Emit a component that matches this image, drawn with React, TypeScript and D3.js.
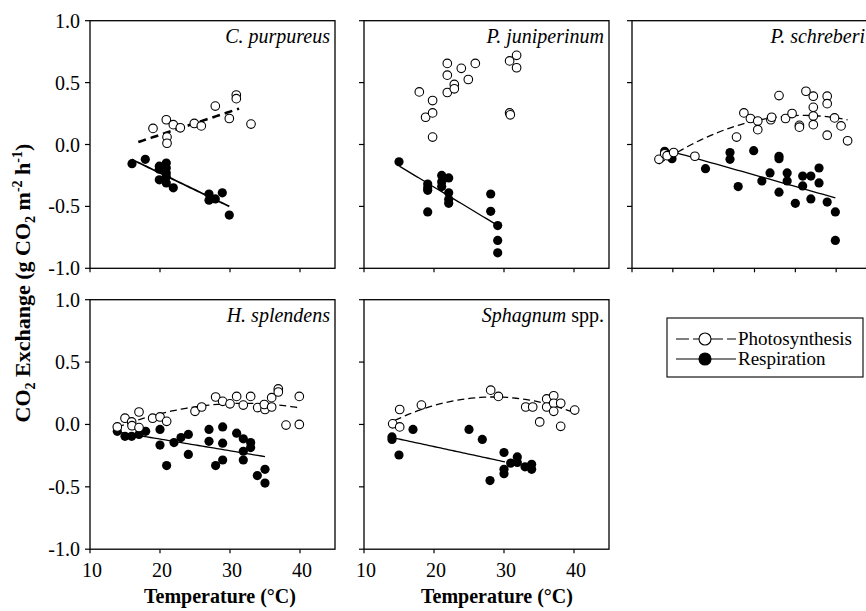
import React from 'react';
import * as d3 from 'd3';

// temperature (°C), CO2 exchange (g CO2 m-2 h-1)
const purpureusPhoto = [
  [19.0, 0.13], [20.9, 0.20], [21.0, 0.06], [21.0, 0.01], [21.9, 0.16], [22.9, 0.135],
  [24.9, 0.17], [25.9, 0.15], [27.9, 0.31], [29.9, 0.21], [30.9, 0.40], [30.9, 0.37], [33.0, 0.165]
];
const purpureusResp = [
  [16.0, -0.155], [17.9, -0.12], [19.9, -0.175], [19.9, -0.2], [19.9, -0.285], [20.9, -0.15],
  [20.9, -0.19], [20.9, -0.23], [20.9, -0.26], [20.9, -0.31], [21.9, -0.35], [27.0, -0.40],
  [27.0, -0.45], [27.9, -0.44], [28.9, -0.39], [29.9, -0.57]
];
const juniperinumPhoto = [
  [17.9, 0.425], [18.8, 0.22], [19.8, 0.355], [19.8, 0.255], [19.8, 0.06], [21.9, 0.655],
  [21.9, 0.56], [21.9, 0.42], [22.9, 0.485], [22.9, 0.45], [23.9, 0.615], [24.9, 0.525],
  [25.9, 0.655], [30.8, 0.675], [31.8, 0.72], [31.8, 0.62], [30.8, 0.255], [30.9, 0.24]
];
const juniperinumResp = [
  [15.0, -0.14], [19.1, -0.32], [19.1, -0.35], [19.1, -0.37], [19.1, -0.545], [21.1, -0.25],
  [21.1, -0.30], [21.1, -0.34], [22.1, -0.27], [22.1, -0.39], [22.1, -0.445], [22.1, -0.475],
  [28.1, -0.40], [28.1, -0.54], [29.1, -0.655], [29.1, -0.775], [29.1, -0.875]
];
const schreberiPhoto = [
  [13.3, -0.12], [14.0, -0.075], [14.3, -0.09], [15.1, -0.065], [17.7, -0.095], [22.8, 0.06],
  [23.7, 0.255], [24.5, 0.21], [25.4, 0.19], [25.4, 0.12], [27.0, 0.2], [27.1, 0.22],
  [28.0, 0.395], [28.8, 0.21], [29.6, 0.25], [30.5, 0.155], [30.5, 0.14], [31.3, 0.43],
  [32.2, 0.39], [32.2, 0.3], [32.2, 0.23], [32.2, 0.16], [33.9, 0.39], [33.9, 0.33],
  [33.9, 0.075], [34.8, 0.215], [35.6, 0.15], [36.4, 0.03]
];
const schreberiResp = [
  [14.0, -0.055], [14.9, -0.115], [19.0, -0.195], [22.0, -0.065], [22.0, -0.12], [23.0, -0.34],
  [24.9, -0.05], [25.9, -0.295], [26.9, -0.23], [28.0, -0.095], [28.0, -0.115], [28.0, -0.385],
  [29.0, -0.23], [29.0, -0.295], [30.0, -0.475], [30.9, -0.255], [30.9, -0.335], [31.9, -0.255],
  [31.9, -0.44], [32.9, -0.19], [32.9, -0.31], [33.9, -0.465], [34.9, -0.545], [34.9, -0.775]
];
const splendensPhoto = [
  [13.9, -0.02], [15.0, 0.05], [15.95, 0.02], [16.0, -0.01], [17.0, 0.1], [17.0, -0.025],
  [18.95, 0.05], [20.0, 0.06], [20.95, 0.025], [25.0, 0.105], [25.95, 0.14], [27.95, 0.22],
  [28.95, 0.185], [30.0, 0.165], [30.95, 0.225], [31.9, 0.155], [32.95, 0.225], [33.95, 0.135],
  [35.0, 0.12], [34.9, 0.16], [35.95, 0.215], [35.95, 0.14], [36.9, 0.285], [36.9, 0.26],
  [38.0, -0.005], [39.9, 0.225], [39.9, 0.0]
];
const splendensResp = [
  [13.9, -0.055], [15.0, -0.095], [15.95, -0.095], [17.0, -0.08], [17.95, -0.055], [20.0, -0.04],
  [20.0, -0.165], [20.95, -0.33], [22.0, -0.145], [23.0, -0.105], [24.05, -0.08], [24.05, -0.24],
  [27.0, -0.04], [27.0, -0.135], [27.95, -0.33], [28.95, -0.02], [28.95, -0.15], [28.95, -0.285],
  [30.95, -0.07], [31.9, -0.115], [31.9, -0.215], [31.9, -0.285], [32.95, -0.145], [32.95, -0.185],
  [33.9, -0.41], [35.0, -0.36], [35.0, -0.47]
];
const sphagnumPhoto = [
  [14.1, 0.005], [15.1, 0.12], [15.1, -0.02], [18.2, 0.155], [28.1, 0.275], [29.2, 0.225],
  [33.1, 0.14], [34.1, 0.14], [35.1, 0.02], [36.1, 0.205], [36.1, 0.14], [37.1, 0.23],
  [37.1, 0.17], [37.1, 0.105], [38.1, 0.17], [38.1, -0.015], [40.1, 0.115]
];
const sphagnumResp = [
  [14.0, -0.1], [14.0, -0.12], [15.0, -0.245], [17.0, -0.04], [25.0, -0.04], [26.9, -0.12],
  [28.0, -0.45], [30.0, -0.225], [30.0, -0.36], [30.0, -0.395], [30.95, -0.31], [31.9, -0.26],
  [31.9, -0.305], [33.0, -0.34], [33.95, -0.32], [33.95, -0.36]
];

// fitted curves: polynomial coefficients [c0, c1, c2] and temperature span
const purpureusPhotoFit = { coef: [-0.297, 0.01875, 0], span: [16.9, 31.3] };
const purpureusRespFit = { coef: [0.3145, -0.02724, 0], span: [15.95, 29.9] };
const juniperinumRespFit = { coef: [0.3377, -0.03407, 0], span: [15.05, 29.14] };
const schreberiPhotoFit = { coef: [-0.96625, 0.0775, -0.00125], span: [13.3, 36.4] };
const schreberiRespFit = { coef: [0.2207, -0.01867, 0], span: [13.96, 34.9] };
const splendensPhotoFit = { coef: [-0.4301, 0.0375, -0.000586], span: [13.9, 40] };
const splendensRespFit = { coef: [0.0704, -0.00938, 0], span: [13.9, 35] };
const sphagnumPhotoFit = { coef: [-0.5482, 0.05392, -0.000946], span: [14.4, 40.1] };
const sphagnumRespFit = { coef: [0.0646, -0.0121, 0], span: [14.1, 30.14] };

const yTicks = [1.0, 0.5, 0.0, -0.5, -1.0];
const xTicks = [10, 20, 30, 40];
const xTicksWide = [10, 15, 20, 25, 30, 35, 40];
const legendLabels = ['Photosynthesis', 'Respiration'];

const FONT = "'Liberation Serif', 'Times New Roman', 'DejaVu Serif', serif";

type Fit = { coef: number[]; span: number[] };

function fitPath(fit: Fit, x: any, y: any) {
  const ts = d3.range(0, 41).map(i => fit.span[0] + (fit.span[1] - fit.span[0]) * i / 40);
  const f = (t: number) => fit.coef[0] + fit.coef[1] * t + fit.coef[2] * t * t;
  return d3.line<number>().x(t => x(t)).y(t => y(f(t)))(ts) || '';
}

function Panel(props: any) {
  const { left, top, width, height, domain, ticks, yLabels, xLabels, title, titleRight,
    photo, resp, photoFit, respFit, boldFit } = props;
  const x = d3.scaleLinear().domain(domain).range([left, left + width]);
  const y = d3.scaleLinear().domain([-1, 1]).range([top + height, top]);
  return (
    <g>
      <rect x={left} y={top} width={width} height={height} fill="none" stroke="#000" strokeWidth={1.3} />
      {yTicks.map(t => (
        <g key={'y' + t}>
          <line x1={left - 5} x2={left} y1={y(t)} y2={y(t)} stroke="#000" strokeWidth={1.2} />
          {yLabels && (
            <text x={left - 10} y={y(t)} dy="0.35em" textAnchor="end" fontSize={20}>{t.toFixed(1)}</text>
          )}
        </g>
      ))}
      {ticks.map((t: number) => (
        <g key={'x' + t}>
          <line x1={x(t)} x2={x(t)} y1={top + height} y2={top + height + 4} stroke="#000" strokeWidth={1.2} />
          {xLabels && (
            <text x={x(t) + 2} y={top + height + 28} textAnchor="middle" fontSize={20}>{t}</text>
          )}
        </g>
      ))}
      <text x={titleRight || left + width - 5} y={top + 22} textAnchor="end" fontSize={20}>{title}</text>
      {photoFit && (
        <path d={fitPath(photoFit, x, y)} fill="none" stroke="#000"
          strokeWidth={boldFit ? 2.6 : 1.3} strokeDasharray={boldFit ? '8,5' : '7,4'} />
      )}
      {respFit && (
        <path d={fitPath(respFit, x, y)} fill="none" stroke="#000" strokeWidth={boldFit ? 1.8 : 1.3} />
      )}
      {resp.map((d: number[], i: number) => (
        <circle key={'r' + i} cx={x(d[0])} cy={y(d[1])} r={4.6} fill="#000" />
      ))}
      {photo.map((d: number[], i: number) => (
        <circle key={'p' + i} cx={x(d[0])} cy={y(d[1])} r={4.3} fill="#fff" stroke="#000" strokeWidth={1.1} />
      ))}
    </g>
  );
}

export default function App() {
  const topRow = { top: 20.7, height: 247.6 };
  const botRow = { top: 299.7, height: 249.5 };
  return (
    <svg width={866} height={611}
      style={{ position: 'absolute', left: 0, top: 0, background: '#fff', fontFamily: FONT }}>
      <Panel left={90} width={245} {...topRow} domain={[10, 45]} ticks={xTicks} yLabels
        title={<tspan fontStyle="italic">C. purpureus</tspan>}
        photo={purpureusPhoto} resp={purpureusResp} photoFit={purpureusPhotoFit} respFit={purpureusRespFit} boldFit />
      <Panel left={364} width={245} {...topRow} domain={[10, 45]} ticks={xTicks}
        title={<tspan fontStyle="italic">P. juniperinum</tspan>}
        photo={juniperinumPhoto} resp={juniperinumResp} respFit={juniperinumRespFit} />
      <Panel left={632} width={245} {...topRow} domain={[10, 40]} ticks={xTicksWide} titleRight={865}
        title={<tspan fontStyle="italic">P. schreberi</tspan>}
        photo={schreberiPhoto} resp={schreberiResp} photoFit={schreberiPhotoFit} respFit={schreberiRespFit} />
      <Panel left={90} width={245} {...botRow} domain={[10, 45]} ticks={xTicks} yLabels xLabels
        title={<tspan fontStyle="italic">H. splendens</tspan>}
        photo={splendensPhoto} resp={splendensResp} photoFit={splendensPhotoFit} respFit={splendensRespFit} />
      <Panel left={364} width={245} {...botRow} domain={[10, 45]} ticks={xTicks} xLabels
        title={<><tspan fontStyle="italic">Sphagnum</tspan><tspan> spp.</tspan></>}
        photo={sphagnumPhoto} resp={sphagnumResp} photoFit={sphagnumPhotoFit} respFit={sphagnumRespFit} />

      <text x={220} y={603} textAnchor="middle" fontSize={20} fontWeight="bold">Temperature (°C)</text>
      <text x={497} y={603} textAnchor="middle" fontSize={20} fontWeight="bold">Temperature (°C)</text>

      <text transform="translate(30,283) rotate(-90)" textAnchor="middle" fontSize={22} fontWeight="bold">
        CO<tspan dy={5} fontSize={14}>2</tspan><tspan dy={-5}> Exchange (g CO</tspan>
        <tspan dy={5} fontSize={14}>2</tspan><tspan dy={-5}> m</tspan>
        <tspan dy={-8} fontSize={14}>-2</tspan><tspan dy={8}> h</tspan>
        <tspan dy={-8} fontSize={14}>-1</tspan><tspan dy={8}>)</tspan>
      </text>

      <g>
        <rect x={667} y={318} width={196} height={59} fill="#fff" stroke="#000" strokeWidth={1.1} />
        {legendLabels.map((lab, i) => {
          const cy = 339 + i * 20;
          return (
            <g key={lab}>
              <line x1={676} x2={736} y1={cy} y2={cy} stroke="#000" strokeWidth={1.2}
                strokeDasharray={i === 0 ? '13,4' : undefined} />
              <circle cx={705} cy={cy} r={6} fill={i === 0 ? '#fff' : '#000'} stroke="#000" strokeWidth={1.1} />
              <text x={738} y={cy} dy="0.33em" fontSize={19}>{lab}</text>
            </g>
          );
        })}
      </g>
    </svg>
  );
}
